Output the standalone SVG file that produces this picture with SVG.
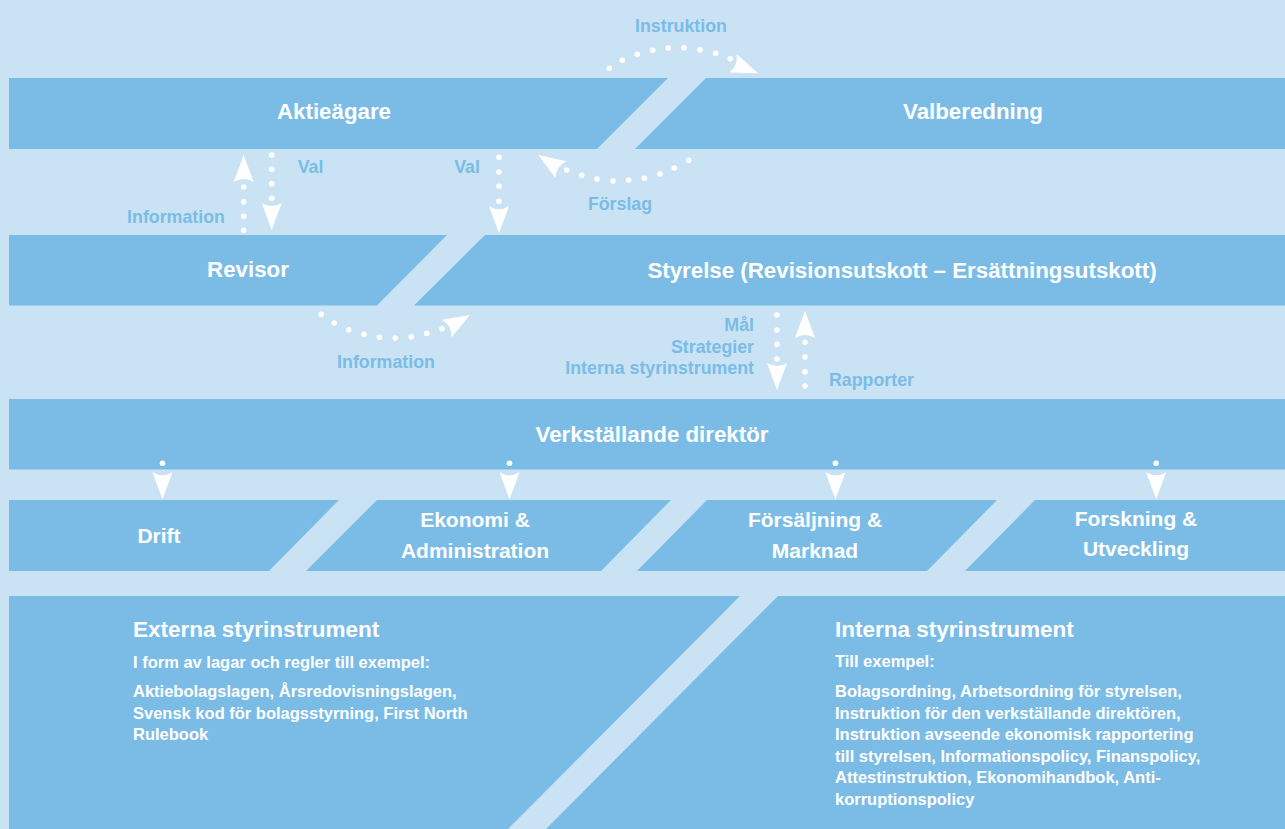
<svg xmlns="http://www.w3.org/2000/svg" xmlns:xlink="http://www.w3.org/1999/xlink" width="1285" height="829" viewBox="0 0 1285 829">
<defs>
<style>
.band{fill:#7bbce7}
.t{font-family:"Liberation Sans",Arial,sans-serif;font-weight:bold;fill:#ffffff;text-anchor:middle}
.t1{font-size:22.3px}
.t2{font-size:21px}
.lbl{font-family:"Liberation Sans",Arial,sans-serif;font-weight:bold;fill:#7bbce7;font-size:17.8px}
.mid{text-anchor:middle}
.end{text-anchor:end}
.h{font-family:"Liberation Sans",Arial,sans-serif;font-weight:bold;fill:#ffffff;font-size:22.5px}
.b{font-family:"Liberation Sans",Arial,sans-serif;font-weight:bold;fill:#ffffff;font-size:16.5px}
.dot{fill:#ffffff}
.ah{fill:#ffffff}
</style>
<path id="ah" d="M0,0 L-27,-10 Q-21,0 -27,10 Z"/>
</defs>
<rect x="0" y="0" width="1285" height="829" fill="#c9e3f5"/>

<g id="aktieagare">
<polygon class="band" points="9,78 668,78 597,149 9,149"/>
<text class="t t1" x="334" y="119">Aktieägare</text>
</g>
<g id="valberedning">
<polygon class="band" points="706,78 1285,78 1285,149 635,149"/>
<text class="t t1" x="973" y="119">Valberedning</text>
</g>
<g id="revisor">
<polygon class="band" points="9,235 447,235 377,305.5 9,305.5"/>
<text class="t t1" x="248" y="277">Revisor</text>
</g>
<g id="styrelse">
<polygon class="band" points="485,235 1285,235 1285,305.5 414,305.5"/>
<text class="t t1" x="902" y="278">Styrelse (Revisionsutskott – Ersättningsutskott)</text>
</g>
<g id="vd">
<rect class="band" x="9" y="399" width="1276" height="70.5"/>
<text class="t t1" x="652" y="442">Verkställande direktör</text>
</g>
<g id="drift">
<polygon class="band" points="9,500 339,500 269,571 9,571"/>
<text class="t t2" x="159" y="543">Drift</text>
</g>
<g id="ekonomi">
<polygon class="band" points="377,500 671,500 601,571 306,571"/>
<text class="t t2" x="475" y="527">Ekonomi &amp;</text>
<text class="t t2" x="475" y="558">Administration</text>
</g>
<g id="forsaljning">
<polygon class="band" points="707,500 997,500 927,571 637,571"/>
<text class="t t2" x="815" y="527">Försäljning &amp;</text>
<text class="t t2" x="815" y="558">Marknad</text>
</g>
<g id="forskning">
<polygon class="band" points="1035,500 1285,500 1285,571 965,571"/>
<text class="t t2" x="1136" y="526">Forskning &amp;</text>
<text class="t t2" x="1136" y="556">Utveckling</text>
</g>
<g id="externa">
<polygon class="band" points="9,596 740,596 508,829 9,829"/>
<text class="h" x="133" y="637">Externa styrinstrument</text>
<text class="b" x="133" y="668">I form av lagar och regler till exempel:</text>
<text class="b" x="133" y="697">Aktiebolagslagen, Årsredovisningslagen,</text>
<text class="b" x="133" y="718.5">Svensk kod för bolagsstyrning, First North</text>
<text class="b" x="133" y="740">Rulebook</text>
</g>
<g id="interna">
<polygon class="band" points="778,596 1285,596 1285,829 546,829"/>
<text class="h" x="835" y="637">Interna styrinstrument</text>
<text class="b" x="835" y="667">Till exempel:</text>
<text class="b" x="835" y="697">Bolagsordning, Arbetsordning för styrelsen,</text>
<text class="b" x="835" y="718.5">Instruktion för den verkställande direktören,</text>
<text class="b" x="835" y="740">Instruktion avseende ekonomisk rapportering</text>
<text class="b" x="835" y="761.5">till styrelsen, Informationspolicy, Finanspolicy,</text>
<text class="b" x="835" y="783">Attestinstruktion, Ekonomihandbok, Anti-</text>
<text class="b" x="835" y="804.5">korruptionspolicy</text>
</g>

<g id="connectors">
<g id="c-instruktion">
<circle class="dot" cx="609.3" cy="68.3" r="2.8"/><circle class="dot" cx="622.3" cy="60.3" r="2.8"/><circle class="dot" cx="637.3" cy="54.3" r="2.8"/><circle class="dot" cx="652.7" cy="50.3" r="2.8"/><circle class="dot" cx="668.3" cy="48" r="2.8"/><circle class="dot" cx="684" cy="47.7" r="2.8"/><circle class="dot" cx="700" cy="49.7" r="2.8"/><circle class="dot" cx="715.7" cy="53.3" r="2.8"/><circle class="dot" cx="730.3" cy="58.7" r="2.8"/>
<use xlink:href="#ah" class="ah" transform="translate(758,73.3) rotate(22)"/>
<text class="lbl mid" x="681" y="32">Instruktion</text>
</g>
<g id="c-forslag">
<circle class="dot" cx="688.7" cy="160.3" r="2.8"/><circle class="dot" cx="674.3" cy="168" r="2.8"/><circle class="dot" cx="660" cy="174" r="2.8"/><circle class="dot" cx="644.3" cy="178.3" r="2.8"/><circle class="dot" cx="628.7" cy="180.3" r="2.8"/><circle class="dot" cx="613" cy="181" r="2.8"/><circle class="dot" cx="597" cy="179" r="2.8"/><circle class="dot" cx="581.7" cy="175.3" r="2.8"/><circle class="dot" cx="566.7" cy="170" r="2.8"/>
<use xlink:href="#ah" class="ah" transform="translate(538.3,155) rotate(-147)"/>
<text class="lbl mid" x="620" y="210">Förslag</text>
</g>
<g id="c-info-up">
<circle class="dot" cx="243.7" cy="187" r="2.8"/><circle class="dot" cx="243.7" cy="201.7" r="2.8"/><circle class="dot" cx="243.7" cy="216.3" r="2.8"/><circle class="dot" cx="243.7" cy="230.3" r="2.8"/>
<use xlink:href="#ah" class="ah" transform="translate(243.7,155) rotate(-90)"/>
<text class="lbl mid" x="176" y="222.5">Information</text>
</g>
<g id="c-val-1">
<circle class="dot" cx="271.7" cy="155" r="2.8"/><circle class="dot" cx="271.7" cy="169.3" r="2.8"/><circle class="dot" cx="271.7" cy="183.7" r="2.8"/><circle class="dot" cx="271.7" cy="198.3" r="2.8"/>
<use xlink:href="#ah" class="ah" transform="translate(271.7,230) rotate(90)"/>
<text class="lbl mid" x="310.5" y="172.5">Val</text>
</g>
<g id="c-val-2">
<circle class="dot" cx="499" cy="157.3" r="2.8"/><circle class="dot" cx="499" cy="172" r="2.8"/><circle class="dot" cx="499" cy="186.3" r="2.8"/><circle class="dot" cx="499" cy="201.3" r="2.8"/>
<use xlink:href="#ah" class="ah" transform="translate(499,233.3) rotate(90)"/>
<text class="lbl mid" x="467" y="172.5">Val</text>
</g>
<g id="c-info-bottom">
<circle class="dot" cx="321.3" cy="314.3" r="2.8"/><circle class="dot" cx="334.3" cy="323" r="2.8"/><circle class="dot" cx="348.7" cy="329.7" r="2.8"/><circle class="dot" cx="364" cy="334.3" r="2.8"/><circle class="dot" cx="379.3" cy="337.3" r="2.8"/><circle class="dot" cx="395.3" cy="338" r="2.8"/><circle class="dot" cx="411.3" cy="336.7" r="2.8"/><circle class="dot" cx="426.7" cy="333.3" r="2.8"/><circle class="dot" cx="442" cy="328.7" r="2.8"/>
<use xlink:href="#ah" class="ah" transform="translate(470,315) rotate(-30)"/>
<text class="lbl mid" x="386" y="368">Information</text>
</g>
<g id="c-mal">
<circle class="dot" cx="777" cy="315" r="2.8"/><circle class="dot" cx="777" cy="330" r="2.8"/><circle class="dot" cx="777" cy="344.3" r="2.8"/><circle class="dot" cx="777" cy="359" r="2.8"/>
<use xlink:href="#ah" class="ah" transform="translate(777,390) rotate(90)"/>
<text class="lbl end" x="754" y="331">Mål</text>
<text class="lbl end" x="754" y="353">Strategier</text>
<text class="lbl end" x="754" y="374">Interna styrinstrument</text>
</g>
<g id="c-rapporter">
<circle class="dot" cx="805" cy="342.3" r="2.8"/><circle class="dot" cx="805" cy="357" r="2.8"/><circle class="dot" cx="805" cy="371.7" r="2.8"/><circle class="dot" cx="805" cy="386" r="2.8"/>
<use xlink:href="#ah" class="ah" transform="translate(805,311) rotate(-90)"/>
<text class="lbl" x="829" y="386">Rapporter</text>
</g>
<g id="c-drift">
<circle class="dot" cx="162.5" cy="463.3" r="2.8"/>
<use xlink:href="#ah" class="ah" transform="translate(162.5,499.3) rotate(90)"/>
</g>
<g id="c-ekonomi">
<circle class="dot" cx="509.5" cy="463.3" r="2.8"/>
<use xlink:href="#ah" class="ah" transform="translate(509.5,499.3) rotate(90)"/>
</g>
<g id="c-forsaljning">
<circle class="dot" cx="835.4" cy="463.3" r="2.8"/>
<use xlink:href="#ah" class="ah" transform="translate(835.4,499.3) rotate(90)"/>
</g>
<g id="c-forskning">
<circle class="dot" cx="1156.2" cy="463.3" r="2.8"/>
<use xlink:href="#ah" class="ah" transform="translate(1156.2,499.3) rotate(90)"/>
</g>
</g>
</svg>
